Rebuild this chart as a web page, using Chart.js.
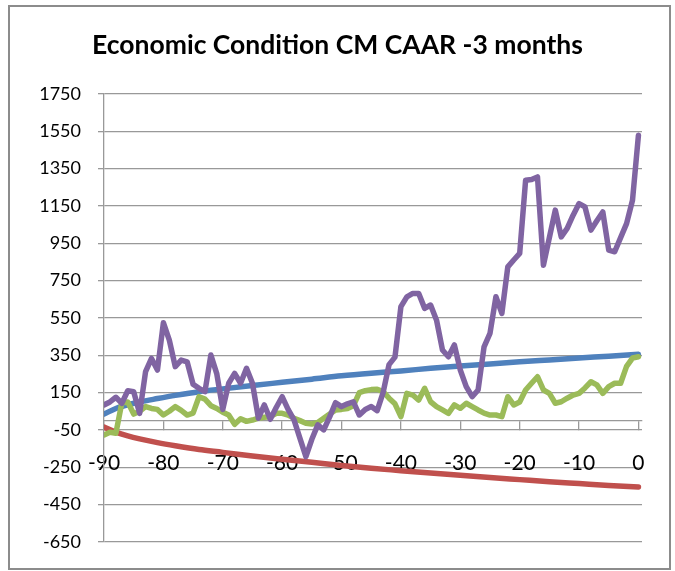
<!DOCTYPE html>
<html>
<head>
<meta charset="utf-8">
<script src="https://cdn.jsdelivr.net/npm/chart.js@4/dist/chart.umd.min.js"></script>
<style>
body{margin:0;background:#fff}
#frame{position:absolute;left:8px;top:5px;width:659px;height:561px;border:2px solid #8c8c8c}
#graph{position:absolute;left:0;top:0}
</style>
</head>
<body>
<div id="frame"></div>
<canvas id="graph" width="675" height="571"></canvas>
<script>
let days=[-90,-89,-88,-87,-86,-85,-84,-83,-82,-81,
-80,-79,-78,-77,-76,-75,-74,-73,-72,-71,
-70,-69,-68,-67,-66,-65,-64,-63,-62,-61,
-60,-59,-58,-57,-56,-55,-54,-53,-52,-51,
-50,-49,-48,-47,-46,-45,-44,-43,-42,-41,
-40,-39,-38,-37,-36,-35,-34,-33,-32,-31,
-30,-29,-28,-27,-26,-25,-24,-23,-22,-21,
-20,-19,-18,-17,-16,-15,-14,-13,-12,-11,
-10,-9,-8,-7,-6,-5,-4,-3,-2,-1,0]

let caar=[84,100,125,93,160,155,39,262,333,271,
524,431,289,324,315,195,173,155,351,250,
60,200,253,200,280,200,13,84,7,70,
128,60,4,-95,-193,-100,-23,-50,20,96,
75,90,101,30,60,75,53,150,300,340,
610,663,681,681,601,619,538,378,342,405,
271,182,128,164,395,467,663,574,823,860,
895,1287,1291,1305,832,980,1127,984,1029,1100,
1162,1144,1020,1070,1117,913,904,980,1055,1180,1528]

let other=[-77,-62,-68,95,100,35,50,75,65,60,
30,50,75,55,30,40,128,115,80,65,
45,30,-20,10,-4,3,13,18,21,39,
39,30,13,0,-14,-18,-10,13,35,57,
60,65,80,150,160,166,168,155,120,90,
21,146,137,110,173,101,75,57,39,84,
66,93,75,57,40,30,30,21,128,84,
100,164,200,235,164,146,93,101,120,137,
146,175,208,191,146,182,200,200,290,335,342]

let bandDays=[-90,-88,-86,-84,-81,-78,-74,-70,-65,-60,-55,-50,-45,-40,-35,-30,-25,-20,-15,-10,-5,0]
let upper=[35,65,85,100,118,135,155,170,188,205,222,240,254,266,280,292,303,315,325,335,345,355]
let lower=[-35,-62,-82,-98,-118,-135,-155,-170,-190,-207,-223,-240,-255,-268,-281,-293,-305,-316,-327,-337,-347,-355]

let xTicks=[-90,-80,-70,-60,-50,-40,-30,-20,-10,0]
let yTicks=[-650,-450,-250,-50,150,350,550,750,950,1150,1350,1550,1750]

function pts(xs,ys){
return xs.map((x,i)=>({x:x,y:ys[i]}))
}

Chart.defaults.font.family="Lato"
Chart.defaults.color="#000"

let line={pointRadius:0,borderWidth:5.5,borderCapStyle:"round",borderJoinStyle:"round",fill:false}

let ctx=document.getElementById("graph").getContext("2d")

let chart=new Chart(ctx,{
type:"line",
data:{
datasets:[
Object.assign({label:"CAAR",data:pts(days,caar),borderColor:"#8064A2",order:1},line),
Object.assign({label:"Other",data:pts(days,other),borderColor:"#9BBB59",order:2},line),
Object.assign({label:"Lower",data:pts(bandDays,lower),borderColor:"#C0504D",order:3,cubicInterpolationMode:"monotone"},line),
Object.assign({label:"Upper",data:pts(bandDays,upper),borderColor:"#4F81BD",order:4,cubicInterpolationMode:"monotone"},line)
]
},
options:{
responsive:false,
devicePixelRatio:1,
animation:false,
layout:{padding:{left:0,right:0,top:0,bottom:29}},
plugins:{
legend:{display:false},
tooltip:{enabled:false},
title:{display:true,text:"Economic Condition CM CAAR -3 months",font:{size:26.5,weight:"bold"},color:"#000",padding:{top:30,bottom:32}}
},
scales:{
x:{
type:"linear",
min:-90,
max:0.6,
position:{y:0},
afterBuildTicks:s=>{s.ticks=xTicks.map(v=>({value:v}))},
grid:{drawOnChartArea:false,tickLength:9,color:"#999",lineWidth:1.3},
border:{display:true,color:"#999",width:1.3},
ticks:{font:{size:21},padding:21,maxRotation:0,autoSkip:false,callback:v=>String(v)}
},
y:{
min:-650,
max:1750,
afterBuildTicks:s=>{s.ticks=yTicks.map(v=>({value:v}))},
afterFit:s=>{s.width=104},
grid:{color:"#999",lineWidth:1.3,tickLength:6},
border:{display:true,color:"#999",width:1.3},
ticks:{font:{size:18},padding:17,callback:v=>String(v)}
},
// empty right margin so the title centres on the whole frame
y2:{
position:"right",
grid:{display:false},
border:{display:false},
ticks:{display:false},
afterFit:s=>{s.width=33}
}
}
}
})
</script>
</body>
</html>
